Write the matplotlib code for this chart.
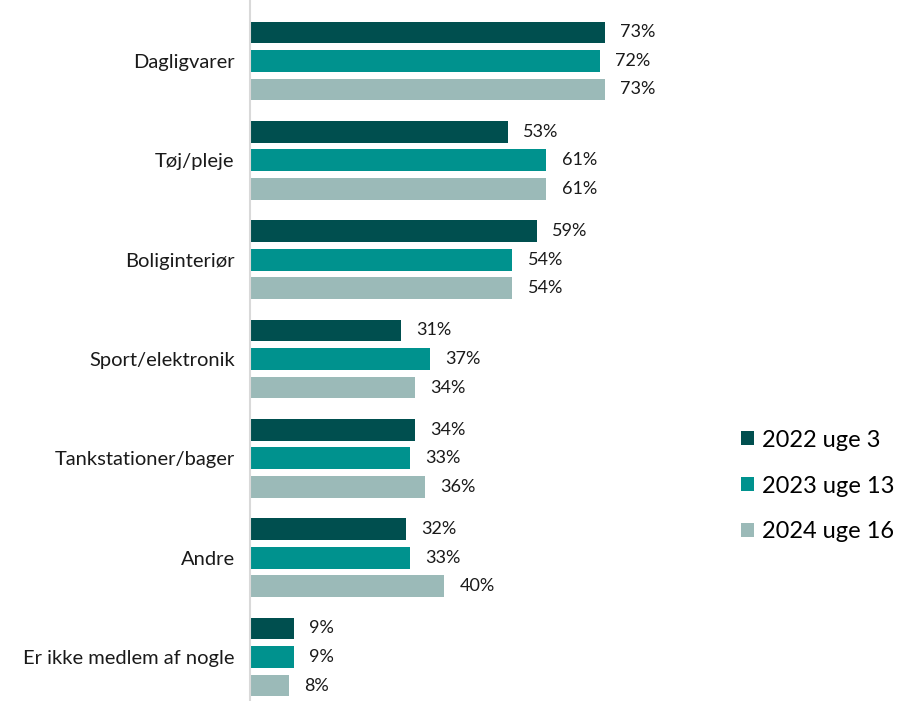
import matplotlib
matplotlib.use("Agg")
import matplotlib.pyplot as plt
from matplotlib.patches import Patch
import numpy as np

# ── Data ──────────────────────────────────────────────────────────────────────
CATEGORIES = [
    "Dagligvarer",
    "Tøj/pleje",
    "Boliginteriør",
    "Sport/elektronik",
    "Tankstationer/bager",
    "Andre",
    "Er ikke medlem af nogle",
]
SERIES = ["2022 uge 3", "2023 uge 13", "2024 uge 16"]
VALUES_2022 = [73, 53, 59, 31, 34, 32, 9]
VALUES_2023 = [72, 61, 54, 37, 33, 33, 9]
VALUES_2024 = [73, 61, 54, 34, 36, 40, 8]

COLORS = ["#004F4F", "#00928E", "#9BBAB8"]

plt.rcParams["font.family"] = ["Lato", "DejaVu Sans"]

fig = plt.figure(figsize=(9.04, 7.01), dpi=100)
ax = fig.add_axes([250 / 904, 0.0, 486 / 904, 1.0])

y = np.arange(len(CATEGORIES))
offset = 0.287
height = 0.22

for k, (vals, color, name) in enumerate(zip([VALUES_2022, VALUES_2023, VALUES_2024], COLORS, SERIES)):
    ypos = y + (k - 1) * offset
    ax.barh(ypos, vals, height=height, color=color, label=name)
    for yy, v in zip(ypos, vals):
        ax.annotate(f"{v}%", (v, yy), xytext=(11, 0), textcoords="offset points",
                    va="center", ha="left", fontsize=13, color="#1a1a1a")

ax.set_xlim(0, 100)
ax.set_ylim(6.443, -0.614)
ax.set_yticks(y)
ax.set_yticklabels(CATEGORIES, fontsize=14.5, color="#1a1a1a")
ax.tick_params(axis="y", length=0, pad=11)
ax.set_xticks([])

for side in ["top", "right", "bottom"]:
    ax.spines[side].set_visible(False)
ax.spines["left"].set_color("#D9D9D9")
ax.spines["left"].set_linewidth(1.5)

handles = [Patch(facecolor=c, edgecolor="none") for c in COLORS]
fig.legend(handles, SERIES, loc="center left", bbox_to_anchor=(741 / 904, 1 - 486 / 701),
           frameon=False, fontsize=17, handlelength=0.53, handleheight=0.53,
           handletextpad=0.34, labelspacing=1.05, borderpad=0, borderaxespad=0)

fig.savefig("out.png", dpi=100)
